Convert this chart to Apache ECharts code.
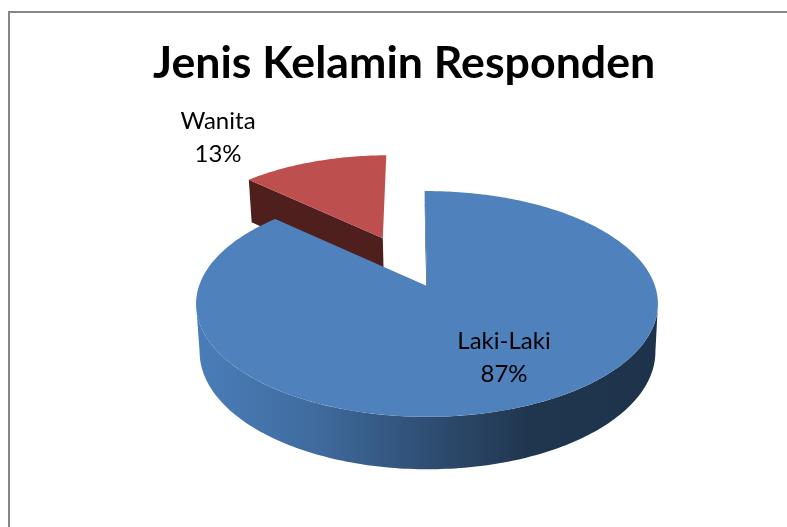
<!DOCTYPE html>
<html><head><meta charset="utf-8">
<style>html,body{margin:0;padding:0;background:#fff}#c{width:787px;height:527px}</style>
<script src="https://cdn.jsdelivr.net/npm/echarts@6/dist/echarts.min.js"></script>
</head><body><div id="c"></div>
<script>
var titleText = 'Jenis Kelamin Responden';
var categories = ['Laki-Laki', 'Wanita'];
var shares = [87, 13];
var explode = [0, 0.51];
var widthScale = [1, 0.97];
var topColors = ['#4f81bd', '#bd504e'];
var faceColors = ['#1f3550', '#4f1f1e'];
var labelPos = [[504, 358], [218, 137.5]];

var startAngle = -0.7;
var total = shares.reduce(function (a, b) { return a + b; }, 0);
var upper = { cx: 427, cy: 286, rx: 228, ry: 110, k: 0.159 };
var lower = { cx: 427.5, cy: 333, rx: 225, ry: 114.6, k: 0.159 };
var frontStart = Math.acos(-upper.k) * 180 / Math.PI;
var frontEnd = 360 - frontStart;

function project(disc, u, v) {
  var s = 1 / (1 + disc.k * v);
  return [disc.cx + disc.rx * u * s, disc.cy - disc.ry * v * s];
}
function rimPoint(disc, deg, off, w) {
  var a = deg * Math.PI / 180;
  return project(disc, Math.sin(a) * w + off[0], Math.cos(a) + off[1]);
}
function arc(disc, from, to, off, w) {
  var pts = [], n = Math.ceil(Math.abs(to - from));
  for (var i = 0; i <= n; i++) pts.push(rimPoint(disc, from + (to - from) * i / n, off, w));
  return pts;
}

function renderItem(params, api) {
  var i = params.dataIndex, before = 0;
  for (var j = 0; j < i; j++) before += shares[j];
  var value = api.value(1);
  var from = startAngle + before / total * 360, to = startAngle + (before + value) / total * 360;
  var mid = (from + to) / 2 * Math.PI / 180;
  var off = [Math.sin(mid) * explode[i], Math.cos(mid) * explode[i]];
  var w = widthScale[i];
  var base = i === 0 ? 10 : 1;
  var apexT = project(upper, off[0], off[1]), apexL = project(lower, off[0], off[1]);
  var topArc = arc(upper, from, to, off, w);
  var children = [
    { type: 'polygon', z2: base,
      shape: { points: [apexT, rimPoint(upper, from, off, w), rimPoint(lower, from, off, w), apexL] },
      style: { fill: faceColors[i] } }
  ];
  var wallFrom = Math.max(from, frontStart), wallTo = Math.min(to, frontEnd);
  if (wallTo > wallFrom) {
    children.push({ type: 'polygon', z2: base + 1,
      shape: { points: arc(upper, wallFrom, wallTo, off, w).concat(arc(lower, wallTo, wallFrom, off, w)) },
      style: { fill: new echarts.graphic.LinearGradient(198, 0, 656, 0, [
        { offset: 0, color: '#4a7db8' }, { offset: 0.25, color: '#406c9f' },
        { offset: 0.5, color: '#2f4e73' }, { offset: 0.72, color: '#20364f' },
        { offset: 1, color: '#1e334b' }], true) } });
  }
  children.push({ type: 'polygon', z2: base + 2,
    shape: { points: [apexT].concat(topArc) }, style: { fill: topColors[i] } });
  children.push({ type: 'text', z2: 30, style: {
    text: api.value(0) + '\n' + Math.round(value / total * 100) + '%',
    x: labelPos[i][0], y: labelPos[i][1], fill: '#000',
    font: '400 24px Lato', lineHeight: 33, align: 'center', verticalAlign: 'middle' } });
  return { type: 'group', children: children };
}

var chart = echarts.init(document.getElementById('c'), null, { renderer: 'canvas' });
chart.setOption({
  animation: false,
  backgroundColor: '#fff',
  title: { text: titleText, left: 148, top: 36, textStyle: { fontFamily: 'Lato', fontWeight: 700, fontSize: 44.7, color: '#000' } },
  graphic: [{ type: 'rect', shape: { x: 9, y: 12, width: 900, height: 700 }, silent: true,
    style: { fill: 'none', stroke: '#868686', lineWidth: 2 } }],
  series: [{ type: 'custom', coordinateSystem: 'none', renderItem: renderItem, silent: true,
    data: categories.map(function (c, i) { return [c, shares[i]]; }) }]
});
</script></body></html>
